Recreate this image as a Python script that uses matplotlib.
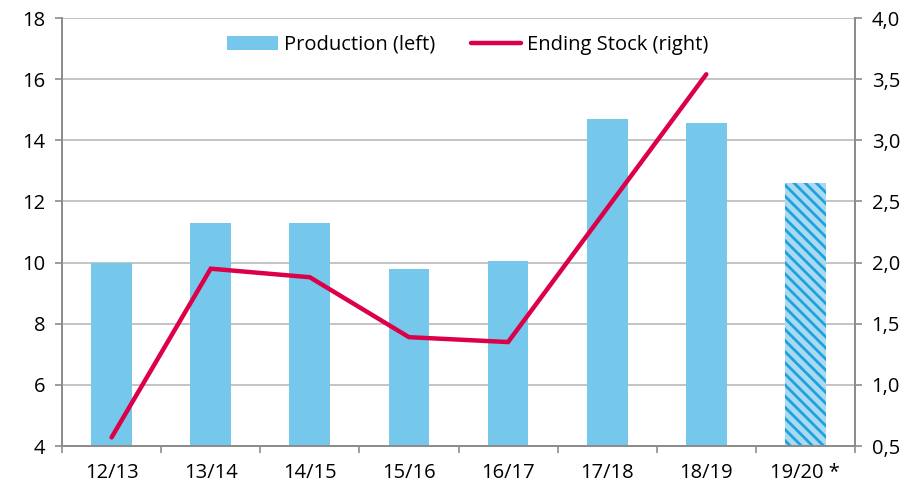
import matplotlib
matplotlib.use('Agg')
import matplotlib.pyplot as plt
from matplotlib.lines import Line2D
from matplotlib.patches import Patch

plt.rcParams['font.family'] = ['Open Sans', 'DejaVu Sans']
plt.rcParams['hatch.linewidth'] = 2.0

seasons = ['12/13', '13/14', '14/15', '15/16', '16/17', '17/18', '18/19', '19/20 *']
production = [10.0, 11.3, 11.3, 9.8, 10.05, 14.7, 14.58, 12.6]
forecast = [False] * 7 + [True]
# ending stock has no 17/18 vertex: the line runs straight from 16/17 to 18/19
stock_seasons = ['12/13', '13/14', '14/15', '15/16', '16/17', '18/19']
ending_stock = [0.57, 1.95, 1.88, 1.39, 1.35, 3.54]

BAR_COL = '#75c8eb'
LINE_COL = '#dc0048'
GRID_COL = '#bfbfbf'
AX_COL = '#8c8c8c'
FS = 14.5

fig = plt.figure(figsize=(9.17, 4.86), dpi=100)
ax = fig.add_axes([62 / 917, 1 - 446 / 486, 793 / 917, 428 / 486])
ax2 = ax.twinx()

x = list(range(len(seasons)))
for xi, val, fc in zip(x, production, forecast):
    if fc:
        ax.bar(xi, val - 4, bottom=4, width=0.41, color='#aad9f1',
               edgecolor='#1ca3dc', hatch='\\\\\\', linewidth=0, zorder=2)
    else:
        ax.bar(xi, val - 4, bottom=4, width=0.41, color=BAR_COL,
               linewidth=0, zorder=2)

stock_x = [seasons.index(s) for s in stock_seasons]
ax2.plot(stock_x, ending_stock, color=LINE_COL, linewidth=3.2,
         solid_capstyle='round', solid_joinstyle='miter', zorder=3)

ax.set_xlim(-0.5, 7.5)
ax.set_ylim(4, 18)
ax2.set_ylim(0.5, 4.0)
ax.set_yticks(range(4, 19, 2))
ax2.set_yticks([0.5, 1.0, 1.5, 2.0, 2.5, 3.0, 3.5, 4.0])
ax2.set_yticklabels(['0,5', '1,0', '1,5', '2,0', '2,5', '3,0', '3,5', '4,0'])

ax.set_xticks([i - 0.5 for i in range(len(seasons) + 1)])
ax.set_xticklabels([])
ax.set_xticks(x, minor=True)
ax.set_xticklabels(seasons, minor=True)
ax.tick_params(axis='x', which='minor', length=0, pad=12, labelsize=FS)
ax.tick_params(axis='x', which='major', length=5, width=1.2, color=AX_COL)
ax.tick_params(axis='y', length=5, width=1.2, color=AX_COL, labelsize=FS, pad=7)
ax2.tick_params(axis='y', length=5, width=1.2, color=AX_COL, labelsize=FS, pad=7)

ax.yaxis.grid(True, color=GRID_COL, linewidth=1.3)
ax.set_axisbelow(True)
for a in (ax, ax2):
    a.spines['top'].set_visible(False)
    for s in ('left', 'right', 'bottom'):
        a.spines[s].set_color(AX_COL)
        a.spines[s].set_linewidth(1.3)

handles = [Patch(facecolor=BAR_COL, label='Production (left)'),
           Line2D([0], [0], color=LINE_COL, linewidth=3.2, solid_capstyle='round',
                  label='Ending Stock (right)')]
ax2.legend(handles=handles, loc='center', bbox_to_anchor=(0.512, 0.937), ncol=2,
           frameon=False, fontsize=FS, handlelength=2.5, handletextpad=0.3,
           columnspacing=1.8, handleheight=0.7)

fig.savefig('out.png', dpi=100)
